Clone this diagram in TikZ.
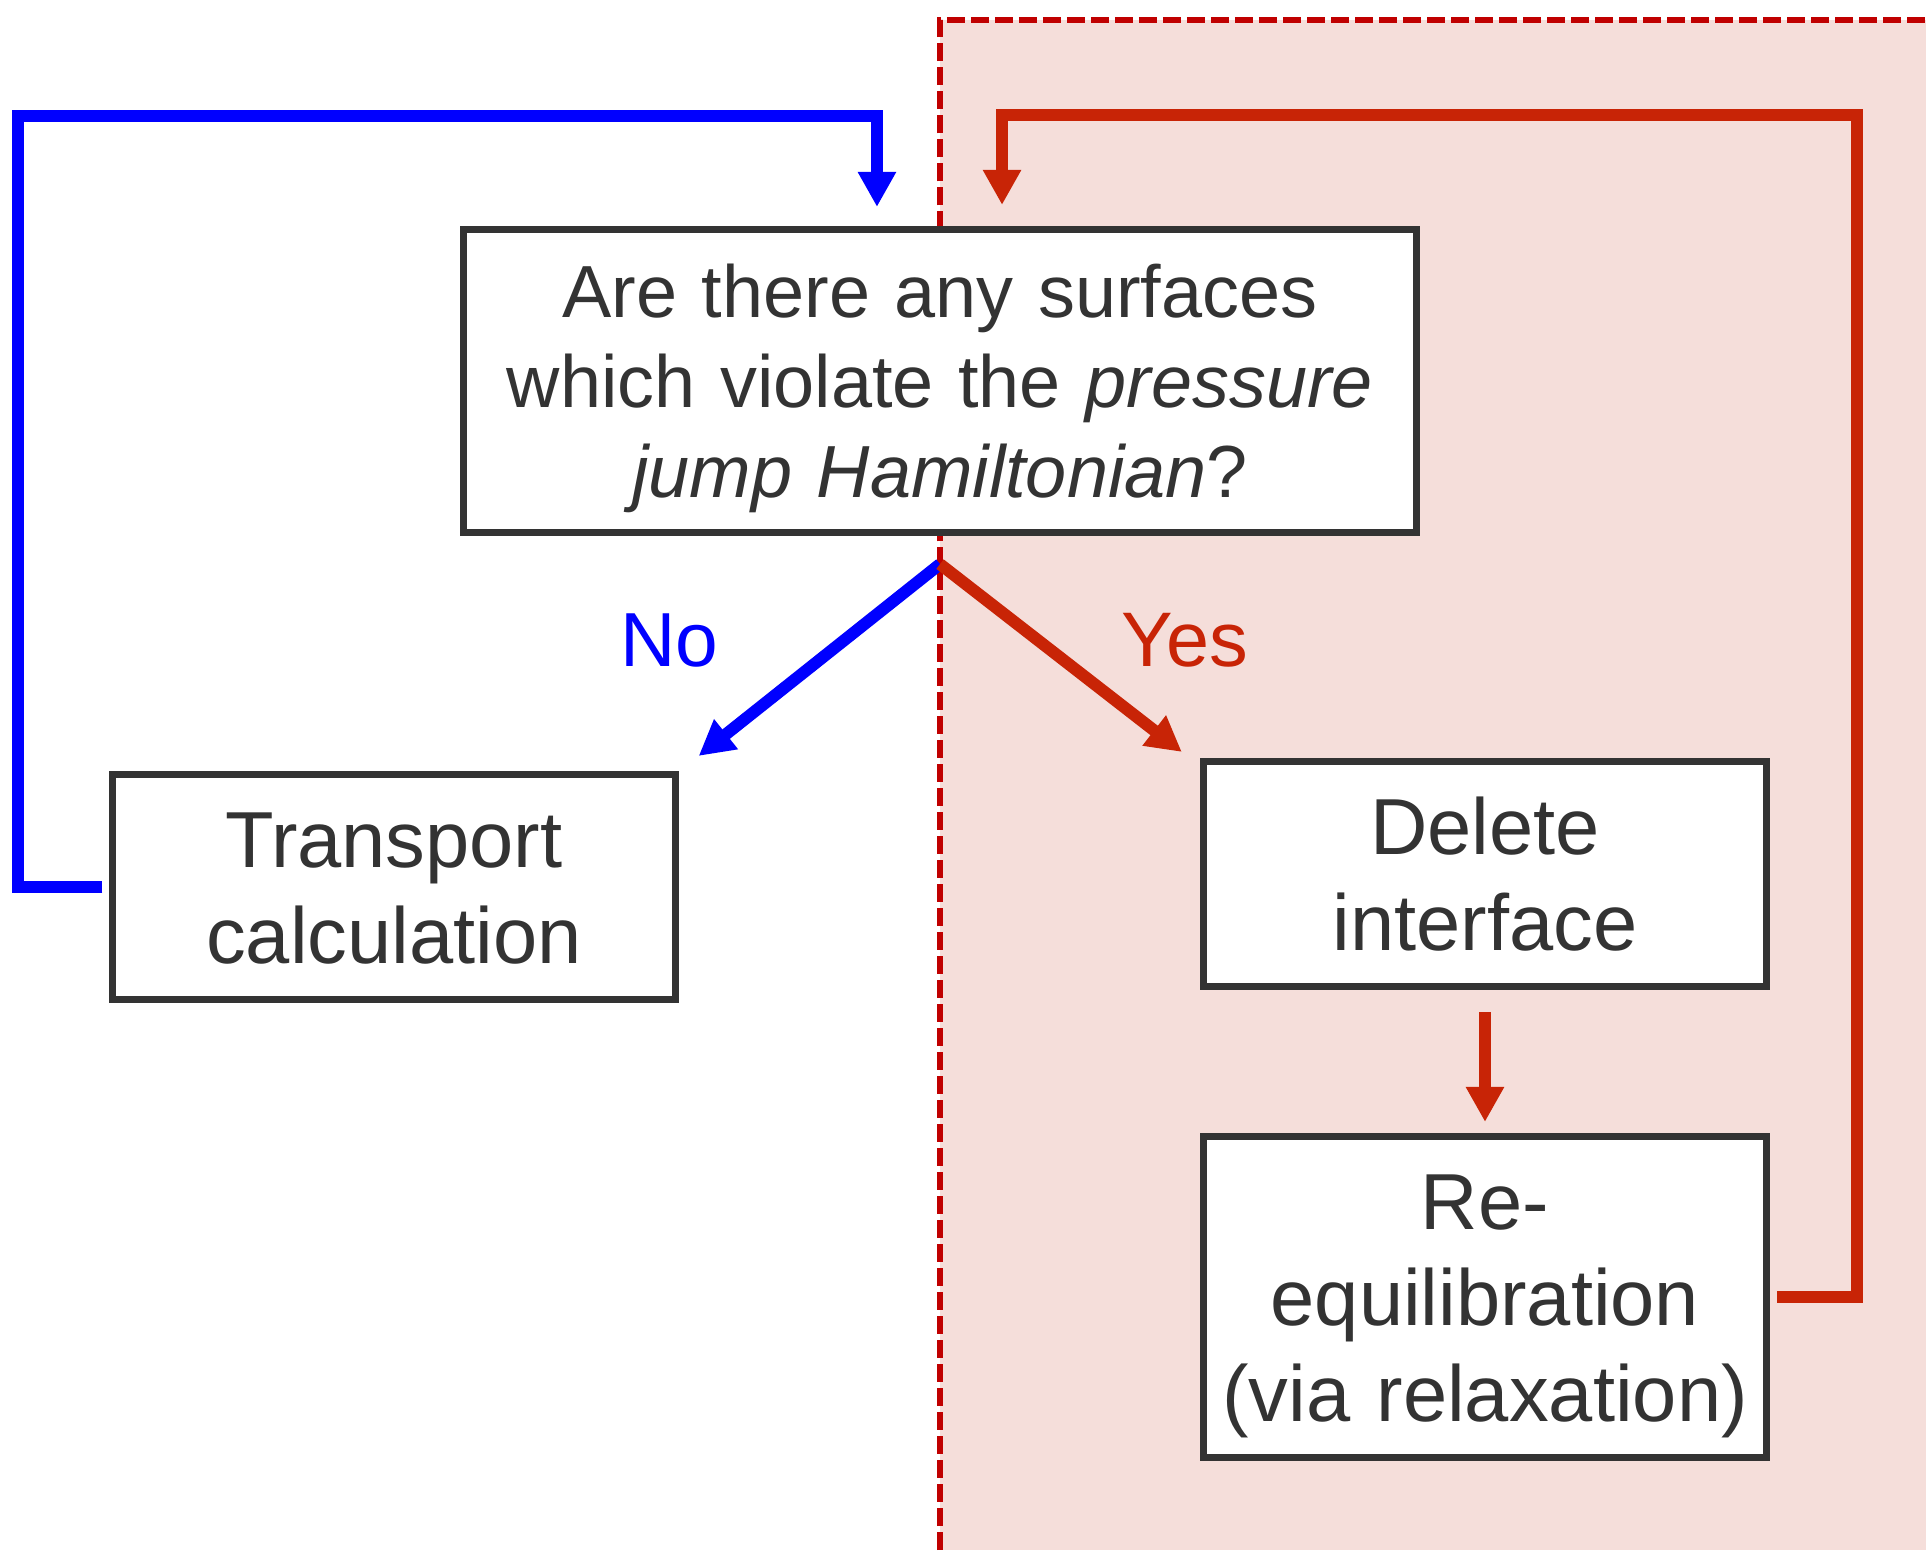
\documentclass[tikz,border=0pt]{standalone}
\usepackage{fontspec}
\setmainfont{Liberation Sans}
\usetikzlibrary{arrows.meta}

\definecolor{txtgray}{HTML}{333333}
\definecolor{noblue}{HTML}{0000FF}
\definecolor{yesred}{HTML}{C82406}
\definecolor{zonered}{HTML}{C00000}
\definecolor{zonefill}{HTML}{F5DEDA}

\tikzset{
	stepbox/.style={draw=txtgray, line width=0.07cm, fill=white, text=txtgray, align=center, inner sep=0pt},
	qfont/.style={font=\fontsize{21}{25.6}\selectfont, text height=0.53cm, text width=9.2cm},
	bfont/.style={font=\fontsize{22.6}{27.3}\selectfont, text height=0.57cm, text width=5.4cm},
	noline/.style={draw=noblue, line width=0.12cm, -{Triangle[width=0.36cm,length=0.35cm]}},
	yesline/.style={draw=yesred, line width=0.12cm, -{Triangle[width=0.36cm,length=0.35cm]}},
}

\begin{document}
\begin{tikzpicture}[x=0.01cm, y=-0.01cm]
		\useasboundingbox (0,0) rectangle (1926,1550);
		
		%relaxation zone
		\fill[zonefill] (940,20) rectangle (1926,1550);
		\draw[zonered, line width=0.06cm, dash pattern=on 0.18cm off 0.06cm] (940,1550) -- (940,20) -- (1926,20);
		
		%boxes
		\node[stepbox, qfont, text depth=1.8cm, minimum width=9.53cm, minimum height=3.03cm] (question) at (940,381)
			{Are there any surfaces\\which violate the \textit{pressure}\\\textit{jump Hamiltonian}?};
		\node[stepbox, bfont, text depth=0.96cm, minimum width=5.62cm, minimum height=2.25cm] (transport) at (394,887)
			{Transport\\calculation};
		\node[stepbox, bfont, text depth=0.96cm, minimum width=5.63cm, minimum height=2.25cm] (delete) at (1485,874)
			{Delete\\interface};
		\node[stepbox, bfont, text depth=1.91cm, minimum width=5.63cm, minimum height=3.21cm] (reeq) at (1485,1297)
			{Re-\\equilibration\\(via relaxation)};
		
		%labels
		\node[text=noblue, font=\fontsize{21.8}{26}\selectfont] (nolabel) at (669,640) {No};
		\node[text=yesred, font=\fontsize{22}{26}\selectfont] (yeslabel) at (1185,640) {Yes};
		
		%arrow ends
		\coordinate (fork) at ([yshift=-0.28cm]question.south);
		\coordinate (notip) at ([xshift=0.2cm,yshift=0.15cm]transport.north east);
		\coordinate (yestip) at ([xshift=-0.18cm,yshift=0.06cm]delete.north west);
		\coordinate (bluein) at ([xshift=-0.63cm,yshift=0.19cm]question.north);
		\coordinate (redin) at ([xshift=0.62cm,yshift=0.21cm]question.north);
		
		%branches
		\draw[noline] (fork) -- (notip);
		\draw[yesline] (fork) -- (yestip);
		\draw[yesline] ([yshift=-0.22cm]delete.south) -- ([yshift=0.11cm]reeq.north);
		
		%loops back
		\draw[noline] ([xshift=-0.07cm]transport.west) -- ++(-84,0) |- ([yshift=0.91cm]bluein) -- (bluein);
		\draw[yesline] ([xshift=0.07cm]reeq.east) -- ++(80,0) |- ([yshift=0.90cm]redin) -- (redin);
\end{tikzpicture}
\end{document}
